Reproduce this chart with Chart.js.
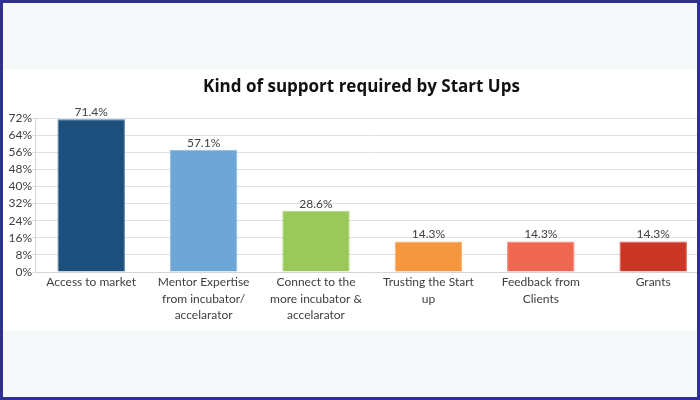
<!DOCTYPE html>
<html>
<head>
<meta charset="utf-8">
<script src="https://cdn.jsdelivr.net/npm/chart.js@4"></script>
<style>
  html, body { margin: 0; padding: 0; width: 700px; height: 400px; overflow: hidden; background: #f6f9f9; }
  #panel { position: absolute; left: 3px; top: 70px; width: 694px; height: 260px; background: #ffffff; }
  #wrap { position: absolute; left: 0; top: 70px; width: 722px; height: 260px; }
  #frame { position: absolute; left: 0; top: 0; width: 700px; height: 400px; box-sizing: border-box; border: 3px solid #2e3192; pointer-events: none; z-index: 5; }
</style>
</head>
<body>
<div id="panel"></div>
<div id="wrap"><canvas id="c" width="722" height="260"></canvas></div>
<div id="frame"></div>
<script>
const chartTitle = 'Kind of support required by Start Ups';
const categories = [
  'Access to market',
  ['Mentor Expertise', 'from incubator/', 'accelarator'],
  ['Connect to the', 'more incubator &', 'accelarator'],
  ['Trusting the Start', 'up'],
  ['Feedback from', 'Clients'],
  'Grants'
];
const values = [71.4, 57.1, 28.6, 14.3, 14.3, 14.3];
const valueLabels = ['71.4%', '57.1%', '28.6%', '14.3%', '14.3%', '14.3%'];
const barColors = ['#1d4f7c', '#6ea6d5', '#9bc85b', '#f5973f', '#ef6651', '#cc3627'];
const barBorders = ['#4f7aa0', '#8fbbe0', '#b2d57f', '#f8b06e', '#f38977', '#d8604f'];
const yTickMax = 72;
const yTickStep = 8;

const FONT = 'Lato, "Open Sans", sans-serif';

const valueLabelPlugin = {
  id: 'valueLabels',
  afterDatasetsDraw(chart) {
    const ctx = chart.ctx;
    const meta = chart.getDatasetMeta(0);
    ctx.save();
    ctx.font = '12px ' + FONT;
    ctx.fillStyle = '#404040';
    ctx.textAlign = 'center';
    ctx.textBaseline = 'bottom';
    meta.data.forEach((bar, i) => {
      ctx.fillText(valueLabels[i], bar.x, bar.y - 1);
    });
    ctx.restore();
  }
};

const titlePlugin = {
  id: 'customTitle',
  afterDraw(chart) {
    const ctx = chart.ctx;
    ctx.save();
    ctx.font = 'bold 17px "Open Sans", sans-serif';
    ctx.fillStyle = '#111111';
    ctx.textAlign = 'center';
    ctx.textBaseline = 'middle';
    ctx.fillText(chartTitle, 361.5, 17.5);
    ctx.restore();
  }
};

new Chart(document.getElementById('c'), {
  type: 'bar',
  data: {
    labels: categories,
    datasets: [{
      data: values,
      backgroundColor: barColors,
      borderColor: barBorders,
      borderWidth: 1,
      barPercentage: 0.6,
      categoryPercentage: 1.0
    }]
  },
  options: {
    responsive: false,
    animation: false,
    devicePixelRatio: 1,
    layout: { padding: { top: 48, right: 12.6, bottom: 0, left: 0 } },
    plugins: {
      legend: { display: false },
      title: { display: false },
      tooltip: { enabled: false }
    },
    scales: {
      x: {
        grid: { display: false, drawTicks: false, tickLength: 0 },
        border: { display: true, color: '#d4d4d4', width: 1 },
        ticks: {
          color: '#404040',
          font: { family: FONT, size: 12, lineHeight: 1.38 },
          padding: 2,
          maxRotation: 0,
          autoSkip: false
        },
        afterFit(scale) { scale.height = 58; }
      },
      y: {
        min: 0,
        max: yTickMax,
        grid: { color: '#e0e0e0', lineWidth: 1, tickLength: 3 },
        border: { display: true, color: '#d4d4d4', width: 1 },
        ticks: {
          stepSize: yTickStep,
          autoSkip: false,
          color: '#404040',
          font: { family: FONT, size: 12 },
          padding: 0,
          callback: (v) => v + '%'
        },
        afterFit(scale) { scale.width = 35; }
      }
    }
  },
  plugins: [valueLabelPlugin, titlePlugin]
});
</script>
</body>
</html>
